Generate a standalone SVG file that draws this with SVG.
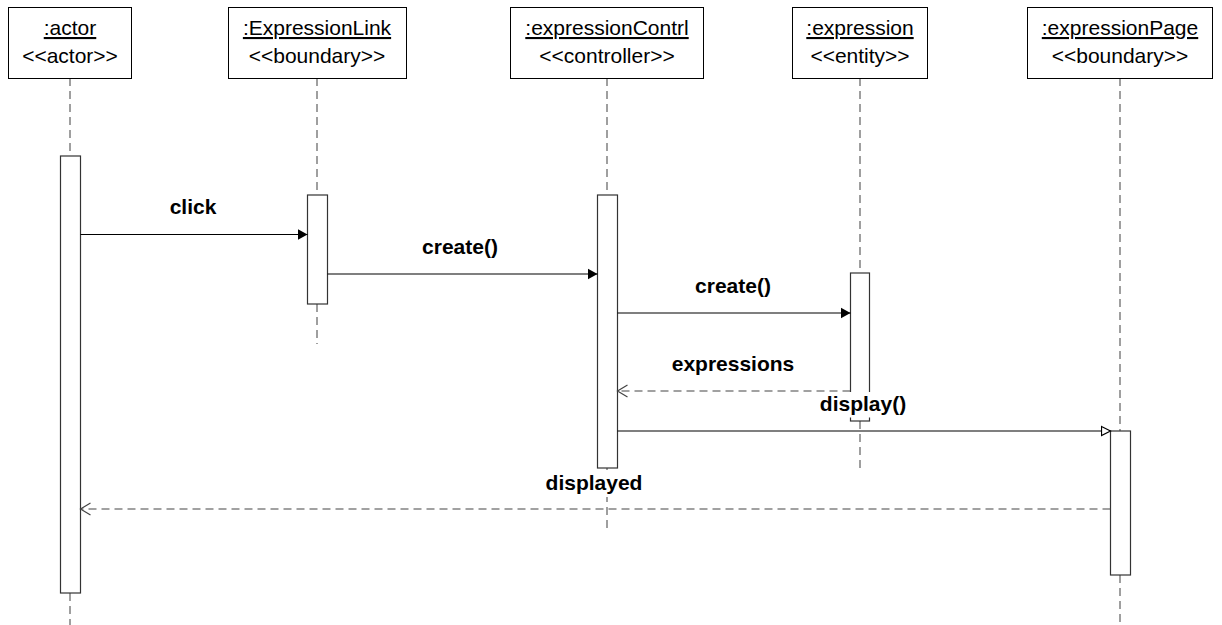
<svg xmlns="http://www.w3.org/2000/svg" width="1222" height="625" viewBox="0 0 1222 625">
<style>
.box{fill:#fff;stroke:#000;stroke-width:1}
.t{font-family:"Liberation Sans",Arial,sans-serif;font-size:21px;text-anchor:middle;fill:#000}
.u{text-decoration:underline}
.lbl{font-family:"Liberation Sans",Arial,sans-serif;font-size:21px;font-weight:bold;text-anchor:middle;fill:#000}
.life{stroke:#808080;stroke-width:1.5;stroke-dasharray:8 5;fill:none}
.act{fill:#fff;stroke:#333;stroke-width:1.2}
.msg{stroke:#000;stroke-width:1.2;fill:none}
.ret{stroke:#444;stroke-width:1.2;stroke-dasharray:8 5;fill:none}
.bg{fill:#fff;stroke:none}
</style>
<defs>
<marker id="filled" markerWidth="12" markerHeight="12" refX="10" refY="6" orient="auto" markerUnits="userSpaceOnUse">
<path d="M0,0.5 L10,6 L0,11.5 Z" fill="#000"/>
</marker>
<marker id="hollow" markerWidth="12" markerHeight="12" refX="10" refY="6" orient="auto" markerUnits="userSpaceOnUse">
<path d="M1,1.5 L10,6 L1,10.5 Z" fill="#fff" stroke="#000" stroke-width="1.2"/>
</marker>
<marker id="open" markerWidth="14" markerHeight="14" refX="12" refY="7" orient="auto" markerUnits="userSpaceOnUse">
<path d="M2,1 L12,7 L2,13" fill="none" stroke="#444" stroke-width="1.2"/>
</marker>
</defs>

<g id="lifelines">
<line class="life" x1="70" y1="78" x2="70" y2="156"/>
<line class="life" x1="70" y1="593" x2="70" y2="625"/>
<line class="life" x1="317" y1="78" x2="317" y2="195"/>
<line class="life" x1="317" y1="304" x2="317" y2="344"/>
<line class="life" x1="607" y1="78" x2="607" y2="195"/>
<line class="life" x1="607" y1="468" x2="607" y2="531"/>
<line class="life" x1="860" y1="78" x2="860" y2="273"/>
<line class="life" x1="860" y1="421" x2="860" y2="468"/>
<line class="life" x1="1120" y1="78" x2="1120" y2="431"/>
<line class="life" x1="1120" y1="575" x2="1120" y2="622"/>
</g>

<g id="actor">
<rect class="box" x="8.5" y="7.5" width="123" height="71"/>
<text class="t u" x="70" y="35">:actor</text>
<text class="t" x="70" y="63">&lt;&lt;actor&gt;&gt;</text>
<rect class="act" x="60.5" y="156" width="20" height="437"/>
</g>

<g id="expressionLink">
<rect class="box" x="228.5" y="7.5" width="178" height="71"/>
<text class="t u" x="317" y="35">:ExpressionLink</text>
<text class="t" x="317" y="63">&lt;&lt;boundary&gt;&gt;</text>
<rect class="act" x="307.5" y="195" width="20" height="109"/>
</g>

<g id="expressionContrl">
<rect class="box" x="510.5" y="7.5" width="193" height="71"/>
<text class="t u" x="607" y="35">:expressionContrl</text>
<text class="t" x="607" y="63">&lt;&lt;controller&gt;&gt;</text>
<rect class="act" x="597.5" y="195" width="20" height="273"/>
</g>

<g id="expression">
<rect class="box" x="792.5" y="7.5" width="135" height="71"/>
<text class="t u" x="860" y="35">:expression</text>
<text class="t" x="860" y="63">&lt;&lt;entity&gt;&gt;</text>
<rect class="act" x="850.5" y="273" width="19" height="148"/>
</g>

<g id="expressionPage">
<rect class="box" x="1027.5" y="7.5" width="185" height="71"/>
<text class="t u" x="1120" y="35">:expressionPage</text>
<text class="t" x="1120" y="63">&lt;&lt;boundary&gt;&gt;</text>
<rect class="act" x="1110.5" y="431" width="20" height="144"/>
</g>

<g id="connectors">
<line class="msg" x1="80.5" y1="234.5" x2="307.5" y2="234.5" marker-end="url(#filled)"/>
<text class="lbl" x="193" y="214">click</text>

<line class="msg" x1="327.5" y1="274" x2="597.5" y2="274" marker-end="url(#filled)"/>
<text class="lbl" x="460" y="254">create()</text>

<line class="msg" x1="617.5" y1="313" x2="850.5" y2="313" marker-end="url(#filled)"/>
<text class="lbl" x="733" y="293">create()</text>

<line class="ret" x1="850.5" y1="391" x2="617.5" y2="391" marker-end="url(#open)"/>
<text class="lbl" x="733" y="371">expressions</text>

<line class="msg" x1="617.5" y1="431" x2="1110.5" y2="431" marker-end="url(#hollow)"/>
<rect class="bg" x="816" y="392" width="94" height="25.5"/>
<text class="lbl" x="863" y="411">display()</text>

<line class="ret" x1="1110.5" y1="509" x2="80.5" y2="509" marker-end="url(#open)"/>
<rect class="bg" x="543" y="470" width="102" height="27"/>
<text class="lbl" x="594" y="490">displayed</text>
</g>
</svg>
